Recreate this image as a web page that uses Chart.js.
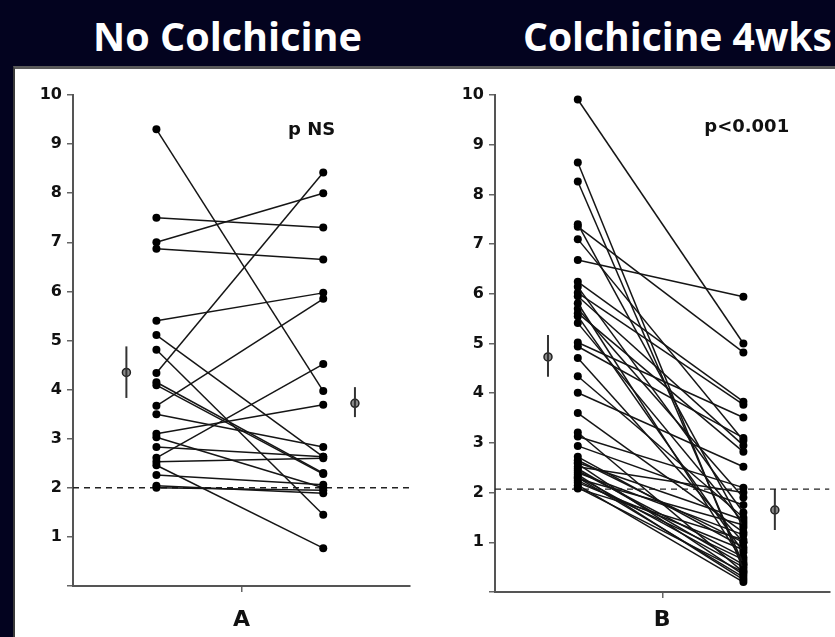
<!DOCTYPE html>
<html>
<head>
<meta charset="utf-8">
<script src="https://cdn.jsdelivr.net/npm/chart.js@4/dist/chart.umd.min.js"></script>
<style>
  html, body { margin: 0; padding: 0; }
  body { width: 835px; height: 637px; background: #03031f; position: relative; overflow: hidden; }
  .title { position: absolute; top: 12px; color: #fff; font-family: "Open Sans", sans-serif; font-weight: 700; font-size: 40px; line-height: 48px; white-space: nowrap; transform-origin: left top; }
  #panel { position: absolute; left: 13px; top: 66px; width: 822px; height: 571px; background: #fff; border-top: 3px solid #5a5a5a; border-left: 2px solid #3a3a3a; box-sizing: border-box; }
  .box { position: absolute; top: 69px; height: 568px; }
</style>
</head>
<body>
<div class="title" id="titleA" style="left:93px">No Colchicine</div>
<div class="title" id="titleB" style="left:523px">Colchicine 4wks</div>
<div id="panel"></div>
<div class="box" style="left:14px;width:410px"><canvas id="chartA" width="410" height="568"></canvas></div>
<div class="box" style="left:424px;width:411px"><canvas id="chartB" width="411" height="568"></canvas></div>

<script>
// pain score, each patient: before (left column) and after (right column)
var noColchBefore = [9.30, 7.50, 7.00, 6.87, 5.40, 5.11, 4.81, 4.34, 4.15, 4.09, 3.67, 3.50, 3.10, 3.03, 2.83, 2.61, 2.53, 2.46, 2.26, 2.04, 2.00];
var noColchAfter  = [3.97, 7.30, 8.00, 6.65, 5.97, 2.63, 1.45, 8.42, 2.30, 2.28, 5.85, 2.83, 3.69, 2.00, 2.63, 4.52, 2.60, 0.77, 2.06, 1.89, 1.95];

var colchBefore = [9.91, 8.64, 8.26, 7.40, 7.35, 7.10, 6.68, 6.24, 6.14, 6.02, 5.95, 5.81, 5.70, 5.61, 5.55,
                   5.41, 5.02, 4.94, 4.71, 4.34, 4.01, 3.60, 3.21, 3.13, 2.94, 2.72, 2.65, 2.60, 2.58, 2.52,
                   2.48, 2.44, 2.40, 2.36, 2.32, 2.30, 2.28, 2.24, 2.20, 2.15, 2.10, 2.08];
var colchAfter  = [5.00, 0.45, 0.55, 1.30, 4.82, 3.05, 5.94, 3.83, 1.60, 3.77, 2.95, 0.60, 1.90, 2.82, 0.80,
                   1.40, 3.51, 3.10, 1.00, 1.50, 2.52, 1.20, 0.40, 2.10, 1.75, 0.90, 1.00, 1.45, 0.35, 2.00,
                   0.55, 0.70, 1.15, 0.25, 0.50, 0.30, 1.35, 0.65, 0.85, 0.20, 0.40, 1.05];

// mean with error bar: [mean, low, high] for before / after
var noColchMeanBefore = [4.35, 3.83, 4.88];
var noColchMeanAfter  = [3.72, 3.44, 4.05];
var colchMeanBefore   = [4.73, 4.33, 5.17];
var colchMeanAfter    = [1.65, 1.25, 2.07];

var cutoffA = 2.0;
var cutoffB = 2.07;

var yTicks = [0, 1, 2, 3, 4, 5, 6, 7, 8, 9, 10];

function fixSize(prop, size) {
  return function(scale) { scale[prop] = size; };
}

var pTextPlugin = {
  id: 'pText',
  afterDatasetsDraw: function(chart, args, opts) {
    var ctx = chart.ctx;
    var x = chart.scales.x.getPixelForValue(opts.x);
    var y = chart.scales.y.getPixelForValue(opts.y);
    ctx.save();
    ctx.font = 'bold 18px "DejaVu Sans", sans-serif';
    ctx.fillStyle = '#111';
    ctx.textAlign = 'center';
    ctx.textBaseline = 'middle';
    ctx.fillText(opts.text, x, y);
    ctx.restore();
  }
};

function makePanel(id, before, after, meanBefore, meanAfter, cutoff, label, pText, geom) {
  var datasets = [];

  before.forEach(function(b, i) {
    datasets.push({
      data: [{x: 1, y: b}, {x: 2, y: after[i]}],
      showLine: true,
      borderColor: '#151515',
      borderWidth: 1.5,
      pointRadius: 4,
      pointBackgroundColor: '#000',
      pointBorderWidth: 0
    });
  });

  datasets.push({
    data: [{x: 0.5, y: cutoff}, {x: 2.52, y: cutoff}],
    showLine: true,
    borderColor: '#222',
    borderWidth: 1.4,
    borderDash: [6, 5],
    pointRadius: 0
  });

  [[0.82, meanBefore], [2.19, meanAfter]].forEach(function(m) {
    datasets.push({
      data: [{x: m[0], y: m[1][1]}, {x: m[0], y: m[1][2]}],
      showLine: true,
      borderColor: '#333',
      borderWidth: 2,
      pointRadius: 0
    });
    datasets.push({
      data: [{x: m[0], y: m[1][0]}],
      pointRadius: 4,
      pointBackgroundColor: '#8a8a8a',
      pointBorderColor: '#222',
      pointBorderWidth: 1.5
    });
  });

  return new Chart(document.getElementById(id), {
    type: 'scatter',
    data: { datasets: datasets },
    plugins: [pTextPlugin],
    options: {
      responsive: false,
      animation: false,
      layout: { padding: { left: 0, right: geom.right, top: 26, bottom: 0 } },
      plugins: {
        legend: { display: false },
        tooltip: { enabled: false },
        pText: pText
      },
      scales: {
        x: {
          type: 'linear',
          min: 0.5,
          max: 2.52,
          afterFit: fixSize('height', geom.xHeight),
          afterBuildTicks: function(scale) { scale.ticks = [{value: 1.51}]; },
          ticks: { callback: function() { return ''; } },
          grid: { drawOnChartArea: false, tickLength: 6, color: '#666', lineWidth: 1.5 },
          border: { color: '#555', width: 2 },
          title: {
            display: true,
            text: label,
            color: '#111',
            font: { family: '"DejaVu Sans", sans-serif', weight: 'bold', size: 22 },
            padding: { top: 0, bottom: 4 }
          }
        },
        y: {
          min: 0,
          max: 10,
          afterFit: fixSize('width', geom.yWidth),
          afterBuildTicks: function(scale) {
            scale.ticks = yTicks.map(function(v) { return {value: v}; });
          },
          ticks: {
            color: '#111',
            padding: 5,
            font: { family: '"DejaVu Sans", sans-serif', weight: 'bold', size: 16 },
            callback: function(v) { return v === 0 ? '' : v; }
          },
          grid: { drawOnChartArea: false, tickLength: 6, color: '#666', lineWidth: 1.5 },
          border: { color: '#555', width: 2 }
        }
      }
    }
  });
}

makePanel('chartA', noColchBefore, noColchAfter, noColchMeanBefore, noColchMeanAfter, cutoffA, 'A',
  { text: 'p NS', x: 1.93, y: 9.29 }, { right: 14, xHeight: 51, yWidth: 59 });
makePanel('chartB', colchBefore, colchAfter, colchMeanBefore, colchMeanAfter, cutoffB, 'B',
  { text: 'p<0.001', x: 2.02, y: 9.34 }, { right: 0, xHeight: 45, yWidth: 71 });

// squeeze titles to the width they take in the picture
[['titleA', 269], ['titleB', 309]].forEach(function(t) {
  var el = document.getElementById(t[0]);
  var w = el.getBoundingClientRect().width;
  el.style.transform = 'scale(' + (t[1] / w) + ', 1)';
});
</script>
</body>
</html>
